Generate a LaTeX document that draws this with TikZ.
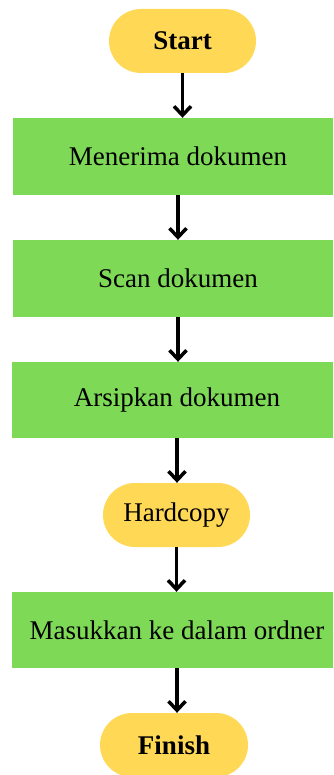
\documentclass[tikz,border=0pt]{standalone}
\usepackage{fontspec}
\setmainfont{Liberation Serif}
\usetikzlibrary{arrows.meta}
\definecolor{pillyellow}{HTML}{FFD955}
\definecolor{boxgreen}{HTML}{7ED957}
\tikzset{
  terminal/.style={fill=pillyellow,rounded corners=32pt,minimum width=147pt,minimum height=64pt,inner sep=0pt,font=\fontsize{27}{32}\selectfont},
  process/.style={fill=boxgreen,minimum width=330pt,minimum height=77pt,inner sep=0pt,font=\fontsize{27}{32}\selectfont},
  flowarrow/.style={line width=3.5pt,-{Straight Barb[length=9pt,width=17pt]}}
}
\begin{document}
\begin{tikzpicture}[x=1pt,y=-1pt]
\clip (0,0) rectangle (333,775);
\node[terminal] (start) at (182.5,41) {\textbf{Start}};
\node[process] (menerima) at (178,156.5) {Menerima dokumen};
\node[process] (scan) at (178,278.5) {Scan dokumen};
\node[process,minimum height=76pt] (arsip) at (177,400) {Arsipkan dokumen};
\node[terminal] (hardcopy) at (176.5,515) {Hardcopy};
\node[process,minimum height=76pt] (ordner) at (177,630) {Masukkan ke dalam ordner};
\node[terminal,minimum width=148pt] (finish) at (174,745) {\textbf{Finish}};
% arrows between steps
\draw [flowarrow] (start.south) -- (start.south |- menerima.north);
\draw [flowarrow] (menerima.south) -- (menerima.south |- scan.north);
\draw [flowarrow] (scan.south) -- (scan.south |- arsip.north);
\draw [flowarrow] (arsip.south) -- (arsip.south |- hardcopy.north);
\draw [flowarrow] (hardcopy.south) -- (hardcopy.south |- ordner.north);
\draw [flowarrow] (ordner.south) -- (ordner.south |- finish.north);
\end{tikzpicture}
\end{document}
